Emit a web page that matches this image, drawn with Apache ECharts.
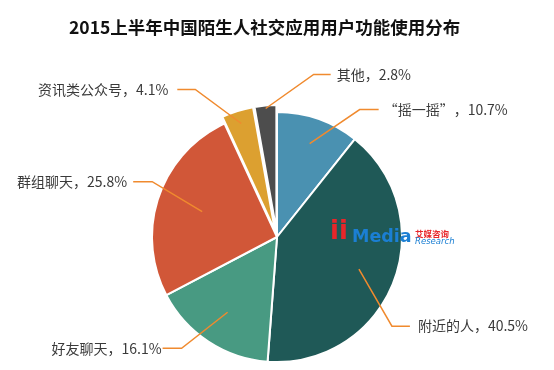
<!DOCTYPE html>
<html><head><meta charset="utf-8">
<script src="https://cdn.jsdelivr.net/npm/echarts@6/dist/echarts.min.js"></script>
<style>html,body{margin:0;padding:0;background:#fff}#c{width:554px;height:370px}</style>
</head><body><div id="c"></div>
<script>
const titleText = '2015上半年中国陌生人社交应用用户功能使用分布';
const categories = ['“摇一摇”', '附近的人', '好友聊天', '群组聊天', '资讯类公众号', '其他'];
const values = [10.7, 40.5, 16.1, 25.8, 4.1, 2.8];
const pulledOut = [false, false, false, false, true, true];
const colors = ['#4a91b1', '#1f5957', '#489a82', '#d15738', '#dca030', '#4d4d4d'];

// layout / style
const CX = 277, CY = 237, R = 125, PULL = 7;
const lineStartR = [99, 88, 90, 79, 119, 129];
const lineBend = [[50, -34], [33, 57], [-46, 36], [-50, -30], [-46, -34], [48, -34]];
const lineTail = [19, 18, 19, 19, 18, 17];
const labelGap = [5, 8, 1, 6, 9, 6];
const FONT = '"Noto Sans CJK SC", "Noto Sans", sans-serif';

const chart = echarts.init(document.getElementById('c'));
const sliceData = categories.map((n, i) => ({
  name: n, value: values[i], selected: pulledOut[i],
  itemStyle: { color: colors[i] }
}));
const labelData = categories.map((n, i) => ({ name: n, value: values[i] }));

chart.setOption({
  backgroundColor: '#fff',
  animation: false,
  title: {
    text: titleText, left: 64, top: 14,
    textStyle: { fontSize: 17.5, fontWeight: 'bold', color: '#111', fontFamily: FONT }
  },
  graphic: [
    { type: 'text', x: 330, y: 245, z: 100,
      style: { text: 'ii', fill: '#e8262a', verticalAlign: 'bottom', font: 'bold 26px "DejaVu Sans", sans-serif' } },
    { type: 'text', x: 352, y: 246, z: 100,
      style: { text: 'Media', fill: '#1b7fd3', verticalAlign: 'bottom', font: 'bold 17.5px "DejaVu Sans", sans-serif' } },
    { type: 'text', x: 415, y: 238, z: 100,
      style: { text: '艾媒咨询', fill: '#e8262a', verticalAlign: 'bottom', font: 'bold 8.5px "Noto Sans CJK SC", sans-serif' } },
    { type: 'text', x: 415, y: 246, z: 100,
      style: { text: 'Research', fill: '#1b7fd3', verticalAlign: 'bottom', font: 'italic 8.5px "DejaVu Sans", sans-serif' } }
  ],
  series: [{
    // the slices
    type: 'pie',
    z: 2,
    center: [CX, CY],
    radius: [0, R],
    startAngle: 90,
    clockwise: true,
    selectedMode: 'multiple',
    selectedOffset: PULL,
    emphasis: { disabled: true },
    itemStyle: { borderColor: '#fff', borderWidth: 2 },
    label: { show: false },
    labelLine: { show: false },
    data: sliceData
  }, {
    // transparent copy that carries labels and leader lines above the slices
    type: 'pie',
    z: 5,
    silent: true,
    center: [CX, CY],
    radius: [0, R],
    startAngle: 90,
    clockwise: true,
    avoidLabelOverlap: false,
    emphasis: { disabled: true },
    itemStyle: { color: 'rgba(0,0,0,0)', borderWidth: 0 },
    label: {
      show: true, position: 'outside',
      formatter: '{b}，{c}%',
      fontSize: 14, color: '#3a3a3a', fontFamily: FONT
    },
    labelLine: {
      show: true, showAbove: true, length: 20, length2: 20,
      lineStyle: { color: '#f08a2e', width: 1.5 }
    },
    labelLayout: function (params) {
      const i = params.dataIndex;
      const p0 = params.labelLinePoints && params.labelLinePoints[0];
      let ux, uy;
      if (p0) {
        const dx = p0[0] - CX, dy = p0[1] - CY;
        const len = Math.hypot(dx, dy) || 1;
        ux = dx / len; uy = dy / len;
      } else {
        let s = 0; for (let k = 0; k < i; k++) s += values[k];
        const total = values.reduce((a, b) => a + b, 0);
        const a = (s + values[i] / 2) / total * 2 * Math.PI;
        ux = Math.sin(a); uy = -Math.cos(a);
      }
      const s0 = [CX + ux * lineStartR[i], CY + uy * lineStartR[i]];
      const s1 = [s0[0] + lineBend[i][0], s0[1] + lineBend[i][1]];
      const dir = lineBend[i][0] >= 0 ? 1 : -1;
      const s2 = [s1[0] + dir * lineTail[i], s1[1]];
      const r = params.labelRect;
      const al = params.align;
      const anchorX = al === 'right' ? r.x + r.width : (al === 'center' ? r.x + r.width / 2 : r.x);
      const va = params.verticalAlign;
      const anchorY = va === 'top' ? r.y : (va === 'bottom' ? r.y + r.height : r.y + r.height / 2);
      return {
        dx: s2[0] + dir * labelGap[i] - anchorX,
        dy: s2[1] - anchorY,
        align: dir > 0 ? 'left' : 'right',
        verticalAlign: 'middle',
        labelLinePoints: [s0, s1, s2]
      };
    },
    data: labelData
  }]
});
</script>
</body></html>
